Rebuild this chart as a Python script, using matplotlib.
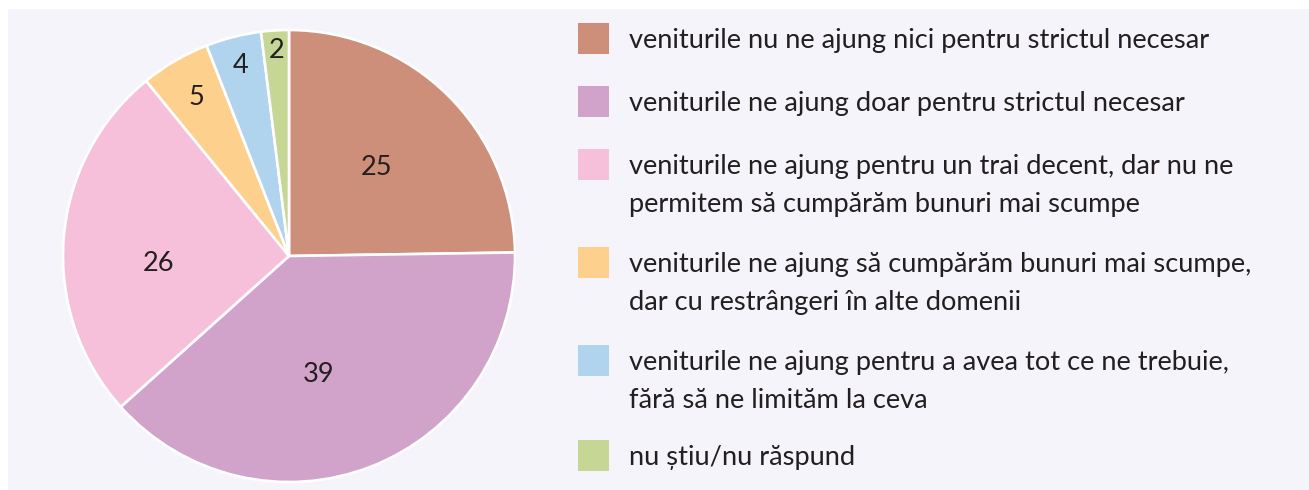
import matplotlib

matplotlib.use("Agg")
import matplotlib.pyplot as plt
import numpy as np
from matplotlib.patches import Rectangle

plt.rcParams["font.family"] = ["Lato", "DejaVu Sans"]

# survey answers, share of respondents (%)
values = [25, 39, 26, 5, 4, 2]
labels = [
    "veniturile nu ne ajung nici pentru strictul necesar",
    "veniturile ne ajung doar pentru strictul necesar",
    "veniturile ne ajung pentru un trai decent, dar nu ne\npermitem să cumpărăm bunuri mai scumpe",
    "veniturile ne ajung să cumpărăm bunuri mai scumpe,\ndar cu restrângeri în alte domenii",
    "veniturile ne ajung pentru a avea tot ce ne trebuie,\nfără să ne limităm la ceva",
    "nu știu/nu răspund",
]
colors = ["#cd8f79", "#d1a2ca", "#f6c0da", "#fdd08d", "#b1d4ee", "#c6d695"]

# value label placement: fraction of radius, nudge from wedge middle (deg)
label_r = [0.55, 0.54, 0.58, 0.81, 0.87, 0.91]
label_nudge = [0, -7.4, 7.6, 0, 0, 0]

W, H = 1309, 490
BG = "#f5f4fa"
TXT = "#231f20"

fig = plt.figure(figsize=(W / 100, H / 100), dpi=100)
fig.patch.set_facecolor("white")
fig.add_artist(Rectangle((8 / W, 0), 1 - 8 / W, 1 - 9 / H,
                         transform=fig.transFigure, facecolor=BG,
                         edgecolor="none", zorder=0))

cx, cy, r = 289, 256, 226
ax = fig.add_axes([(cx - r) / W, (H - cy - r) / H, 2 * r / W, 2 * r / H])
ax.set_facecolor("none")
wedges, _ = ax.pie(values, colors=colors, startangle=90, counterclock=False,
                   radius=1.0,
                   wedgeprops=dict(edgecolor="white", linewidth=1.9))
ax.set_xlim(-1, 1)
ax.set_ylim(-1, 1)
ax.set_aspect("equal")
ax.axis("off")

for w, v, d, nudge in zip(wedges, values, label_r, label_nudge):
    ang = np.deg2rad((w.theta1 + w.theta2) / 2 + nudge)
    ax.text(d * np.cos(ang), d * np.sin(ang), str(v), ha="center",
            va="center", fontsize=19.5, color=TXT)

# legend drawn by hand so the swatch lines up with the first text line
row_y = [38.5, 101.5, 164.5, 262.5, 360.5, 455]
sw = 31
for y, lab, c in zip(row_y, labels, colors):
    fig.add_artist(Rectangle((578 / W, 1 - (y + sw / 2) / H), sw / W, sw / H,
                             transform=fig.transFigure, facecolor=c,
                             edgecolor="none"))
    for i, line in enumerate(lab.split("\n")):
        fig.text(629 / W, 1 - (y + 2 + i * 38) / H, line, ha="left",
                 va="center", fontsize=19.6, color=TXT)

fig.savefig("out.png", dpi=100, facecolor=fig.get_facecolor())
